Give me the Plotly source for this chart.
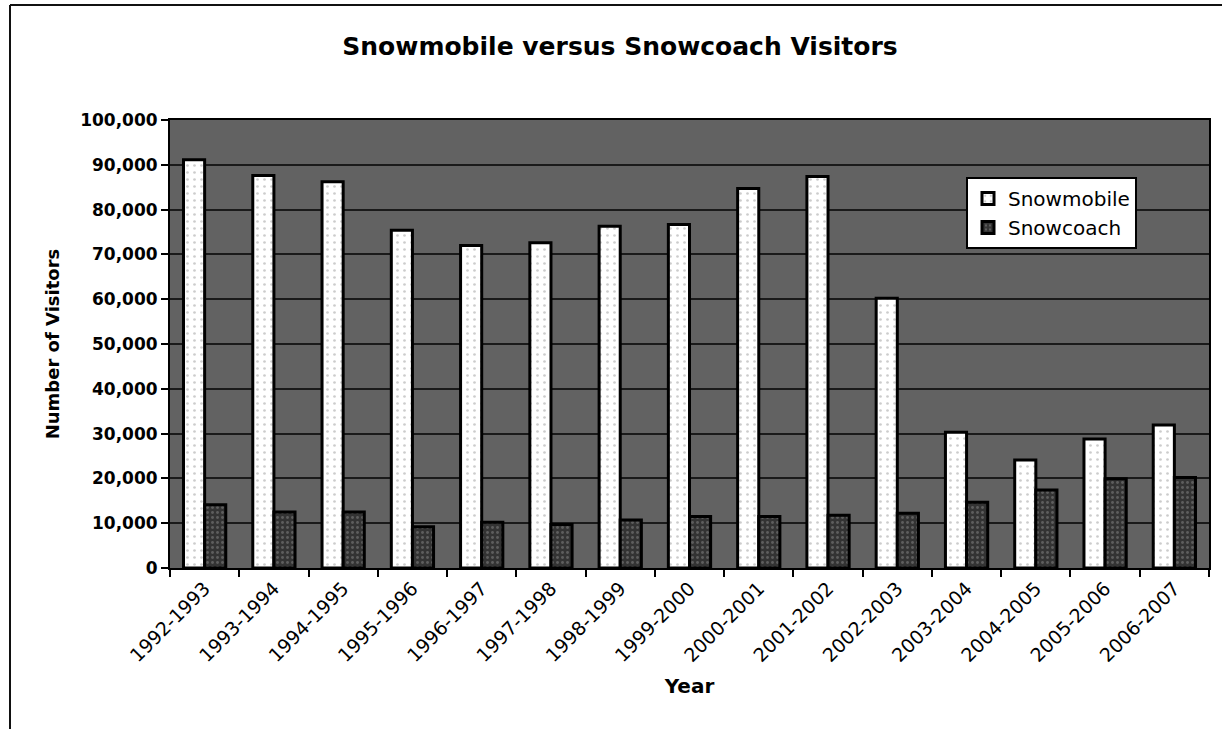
import plotly.graph_objects as go

years = ["1992-1993", "1993-1994", "1994-1995", "1995-1996", "1996-1997",
         "1997-1998", "1998-1999", "1999-2000", "2000-2001", "2001-2002",
         "2002-2003", "2003-2004", "2004-2005", "2005-2006", "2006-2007"]
snowmobile = [91100, 87600, 86200, 75400, 72000, 72600, 76300, 76700,
              84700, 87400, 60200, 30300, 24100, 28800, 31900]
snowcoach = [14100, 12500, 12500, 9200, 10200, 9700, 10700, 11500,
             11500, 11800, 12200, 14700, 17400, 19900, 20200]

W, H = 1222, 729
L, R, T, B = 170, 13, 120, 161
pw, ph = W - L - R, H - T - B

def px_x(x):
    return (x - L) / pw

def px_y(y):
    return (H - B - y) / ph

FONT = "DejaVu Sans"

fig = go.Figure()
fig.add_trace(go.Bar(
    x=years, y=snowmobile, name="Snowmobile",
    marker=dict(color="#ffffff", line=dict(color="#000000", width=3),
                pattern=dict(shape=".", fgcolor="#9a9a9a", size=7, solidity=0.12)),
))
fig.add_trace(go.Bar(
    x=years, y=snowcoach, name="Snowcoach",
    marker=dict(color="#333333", line=dict(color="#000000", width=3),
                pattern=dict(shape=".", fgcolor="#8a8a8a", size=5, solidity=0.25)),
))

fig.update_layout(
    width=W, height=H,
    margin=dict(l=L, r=R, t=T, b=B),
    paper_bgcolor="#ffffff",
    plot_bgcolor="#626262",
    barmode="group", bargap=0.39, bargroupgap=0.0,
    font=dict(family=FONT, color="#000000"),
    title=dict(text="Snowmobile versus Snowcoach Visitors",
               x=620 / W, xref="container", xanchor="center",
               y=1 - 46 / H, yref="container", yanchor="middle",
               font=dict(family=FONT, size=25, weight="bold", color="#000000")),
    legend=dict(x=px_x(966), y=px_y(177), xanchor="left", yanchor="top",
                bgcolor="#ffffff", bordercolor="#000000", borderwidth=2,
                font=dict(family=FONT, size=20, color="#000000"),
                tracegroupgap=2, itemwidth=30),
    showlegend=True,
)

fig.update_xaxes(
    type="category", tickangle=-45,
    tickson="boundaries", ticks="outside", ticklen=7, tickcolor="#000000", tickwidth=1.5,
    showline=True, linecolor="#000000", linewidth=2, mirror=True,
    showgrid=False,
    tickfont=dict(family=FONT, size=19, color="#000000"),
    title=dict(text="Year", font=dict(family=FONT, size=20, weight="bold"), standoff=14),
)
fig.update_yaxes(
    range=[0, 100000], dtick=10000, tickformat=",d",
    ticks="outside", ticklen=7, tickcolor="#000000", tickwidth=1.5,
    showline=True, linecolor="#000000", linewidth=2, mirror=True,
    showgrid=True, gridcolor="#1a1a1a", gridwidth=1.5,
    zeroline=False,
    tickfont=dict(family=FONT, size=17, weight="bold", color="#000000"),
    title=dict(text="Number of Visitors", font=dict(family=FONT, size=18, weight="bold"), standoff=16),
)

# outer frame lines of the scanned chart
fig.add_shape(type="line", xref="paper", yref="paper",
              x0=px_x(10), x1=px_x(10), y0=px_y(5), y1=px_y(729),
              line=dict(color="#111111", width=2))
fig.add_shape(type="line", xref="paper", yref="paper",
              x0=px_x(10), x1=px_x(1222), y0=px_y(5), y1=px_y(5),
              line=dict(color="#111111", width=2))

fig.write_html("out.html")
